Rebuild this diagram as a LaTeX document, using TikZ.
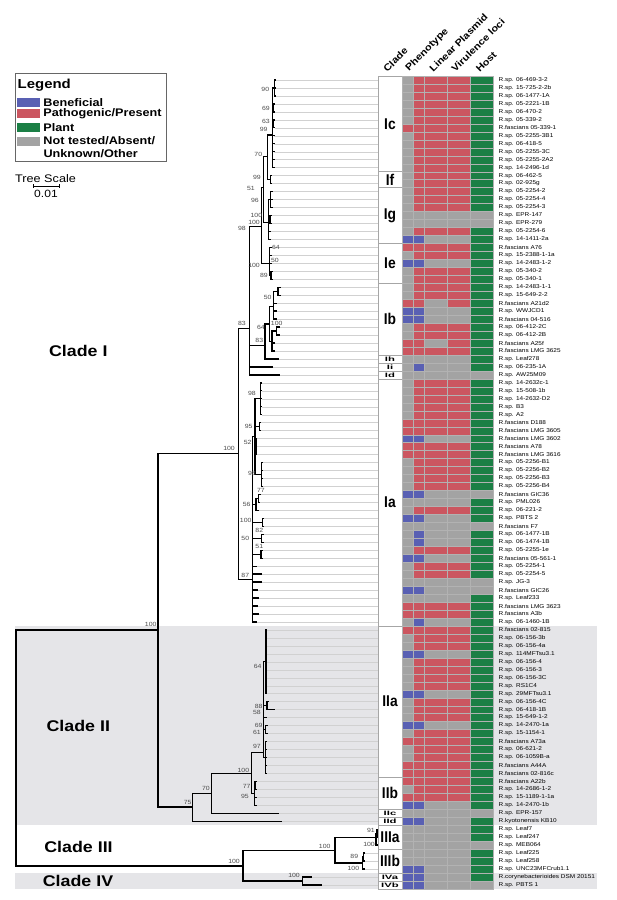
\documentclass[tikz,border=0pt]{standalone}
\usepackage{fontspec}
\setmainfont{Liberation Sans}[FakeStretch=1.15]
\usetikzlibrary{positioning}

\definecolor{be}{HTML}{5960B3}
\definecolor{pa}{HTML}{CB5660}
\definecolor{pl}{HTML}{1B7F45}
\definecolor{nt}{HTML}{A3A3A3}
\definecolor{band}{HTML}{E5E5E8}

\begin{document}
\begin{tikzpicture}[x=1pt,y=-1pt,
    br/.style={line width=1.3pt,line cap=rect},
    leafline/.style={draw=black!18,line width=0.45pt},
    sep/.style={draw=black!35,line width=0.5pt},
    cell/.style={draw=black!30,line width=0.3pt},
    boot/.style={anchor=east,inner sep=0pt,text=black!70,font=\fontsize{6}{6}\selectfont},
    tiplab/.style={anchor=west,inner sep=0pt,font=\fontsize{5.6}{6}\selectfont},
    hdr/.style={rotate=45,anchor=south west,inner sep=0pt,font=\fontsize{9.5}{9.5}\bfseries\selectfont},
    bigclade/.style={inner sep=0pt,font=\fontsize{15.5}{16}\bfseries\selectfont},
    subbig/.style={inner sep=0pt,font=\fontsize{12}{12}\bfseries\selectfont},
    subsmall/.style={inner sep=0pt,font=\fontsize{7}{7}\bfseries\selectfont},
    swatch/.style={minimum width=22.7pt,minimum height=9pt,inner sep=0pt},
    legtxt/.style={anchor=west,inner sep=0pt,font=\fontsize{11}{11}\bfseries\selectfont}]

    \fill[white] (0,0) rectangle (617,900);
    \useasboundingbox (0,0) rectangle (617,900);

    % legend
    \draw[draw=black!60,line width=0.8pt,fill=white] (15,73.5) rectangle (166.7,161);
    \node[anchor=west,inner sep=0pt,font=\fontsize{13}{13}\bfseries\selectfont] (leg) at (17.5,85.5) {Legend};
    \node[swatch,fill=be] (swbe) at (28.7,102.2) {};
    \node[swatch,fill=pa] (swpa) at (28.7,113.7) {};
    \node[swatch,fill=pl] (swpl) at (28.7,127.5) {};
    \node[swatch,fill=nt] (swnt) at (28.7,141) {};
    \node[legtxt,right=3pt of swbe] (txbe) {Beneficial};
    \node[legtxt,right=3pt of swpa] (txpa) {Pathogenic/Present};
    \node[legtxt,right=3pt of swpl] (txpl) {Plant};
    \node[legtxt,right=3pt of swnt] (txnt) {Not tested/Absent/};
    \node[legtxt] (txun) at (43.4,153.3) {Unknown/Other};

    % tree scale
    \node[anchor=west,inner sep=0pt,font=\fontsize{11}{11}\selectfont] (tsc) at (15,179) {Tree Scale};
    \coordinate (sbl) at (33.3,186);
    \coordinate (sbr) at (59.3,186);
    \draw[line width=0.8pt] (sbl) -- (sbr);
    \draw[line width=0.8pt] ([yshift=2pt]sbl) -- ([yshift=-2pt]sbl);
    \draw[line width=0.8pt] ([yshift=2pt]sbr) -- ([yshift=-2pt]sbr);
    \node[inner sep=0pt,font=\fontsize{10.5}{10.5}\selectfont] (tsv) at (46,194) {0.01};

    % column headers
    \node[hdr] (hclade) at (387.5,73) {Clade};
    \node[hdr] (hphen) at (410.5,73) {Phenotype};
    \node[hdr] (hplas) at (433.5,73) {Linear Plasmid};
    \node[hdr] (hvir) at (455.5,73) {Virulence loci};
    \node[hdr] (hhost) at (480,73) {Host};

    \begin{scope}[yshift=-72.03pt,y=-7.97pt]
        % clade bands
        \fill[band] (15,69.5) rectangle (378,94.5);
        \fill[band] (494,69.5) rectangle (597,94.5);
        \fill[band] (15,100.5) rectangle (378,102.5);
        \fill[band] (494,100.5) rectangle (597,102.5);

        % leaves, heat map and labels
        \foreach \i/\tx/\lab/\ka/\kb/\kc/\kd/\ke in {
            1/275.5/R.sp. 06-469-3-2/nt/pa/pa/pa/pl,
            2/275.5/R.sp. 15-725-2-2b/nt/pa/pa/pa/pl,
            3/275.5/R.sp. 06-1477-1A/nt/pa/pa/pa/pl,
            4/274.5/R.sp. 05-2221-1B/nt/pa/pa/pa/pl,
            5/274.5/R.sp. 06-470-2/nt/pa/pa/pa/pl,
            6/274.5/R.sp. 05-339-2/nt/pa/pa/pa/pl,
            7/274.5/R.fascians 05-339-1/pa/pa/pa/pa/pl,
            8/274/R.sp. 05-2255-3B1/nt/pa/pa/pa/pl,
            9/274/R.sp. 06-418-5/nt/pa/pa/pa/pl,
            10/274/R.sp. 05-2255-3C/nt/pa/pa/pa/pl,
            11/274/R.sp. 05-2255-2A2/nt/pa/pa/pa/pl,
            12/274/R.sp. 14-2496-1d/nt/pa/pa/pa/pl,
            13/271.7/R.sp. 06-462-5/nt/pa/pa/pa/pl,
            14/271.7/R.sp. 02-925g/nt/pa/pa/pa/pl,
            15/272.7/R.sp. 05-2254-2/nt/pa/pa/pa/pl,
            16/272.7/R.sp. 05-2254-4/nt/pa/pa/pa/pl,
            17/272.7/R.sp. 05-2254-3/nt/pa/pa/pa/pl,
            18/271/R.sp. EPR-147/nt/nt/nt/nt/nt,
            19/271/R.sp. EPR-279/nt/nt/nt/nt/nt,
            20/270.5/R.sp. 05-2254-6/nt/pa/pa/pa/pl,
            21/270.5/R.sp. 14-1411-2a/be/be/nt/nt/pl,
            22/271/R.fascians A76/pa/pa/pa/pa/pl,
            23/271/R.sp. 15-2388-1-1a/nt/pa/pa/pa/pl,
            24/271.5/R.sp. 14-2483-1-2/be/be/nt/nt/pl,
            25/272/R.sp. 05-340-2/nt/pa/pa/pa/pl,
            26/272/R.sp. 05-340-1/nt/pa/pa/pa/pl,
            27/280/R.sp. 14-2483-1-1/nt/pa/pa/pa/pl,
            28/280/R.sp. 15-649-2-2/nt/pa/pa/pa/pl,
            29/276/R.fascians A21d2/pa/pa/nt/pa/pl,
            30/276/R.sp. WWJCD1/be/be/nt/nt/pl,
            31/276/R.fascians 04-516/be/be/nt/nt/pl,
            32/279/R.sp. 06-412-2C/nt/pa/pa/pa/pl,
            33/279/R.sp. 06-412-2B/nt/pa/pa/pa/pl,
            34/274/R.fascians A25f/pa/pa/nt/pa/pl,
            35/274/R.fascians LMG 3625/pa/pa/pa/pa/pl,
            36/278.3/R.sp. Leaf278/nt/nt/nt/nt/pl,
            37/272.7/R.sp. 06-235-1A/nt/be/nt/nt/pl,
            38/279.3/R.sp. AW25M09/nt/nt/nt/nt/nt,
            39/261.7/R.sp. 14-2632c-1/nt/pa/pa/pa/pl,
            40/261.7/R.sp. 15-508-1b/nt/pa/pa/pa/pl,
            41/261.7/R.sp. 14-2632-D2/nt/pa/pa/pa/pl,
            42/261.7/R.sp. B3/nt/pa/pa/pa/pl,
            43/261.7/R.sp. A2/nt/pa/pa/pa/pl,
            44/260.3/R.fascians D188/pa/pa/pa/pa/pl,
            45/260.3/R.fascians LMG 3605/pa/pa/pa/pa/pl,
            46/256.7/R.fascians LMG 3602/be/be/nt/nt/pl,
            47/256.7/R.fascians A78/pa/pa/pa/pa/pl,
            48/256.7/R.fascians LMG 3616/pa/pa/pa/pa/pl,
            49/262.7/R.sp. 05-2256-B1/nt/pa/pa/pa/pl,
            50/262.7/R.sp. 05-2256-B2/nt/pa/pa/pa/pl,
            51/262.7/R.sp. 05-2256-B3/nt/pa/pa/pa/pl,
            52/262.7/R.sp. 05-2256-B4/nt/pa/pa/pa/pl,
            53/260/R.fascians GIC36/be/be/nt/nt/nt,
            54/259.3/R.sp. PML026/nt/nt/nt/nt/pl,
            55/258/R.sp. 06-221-2/nt/pa/pa/pa/pl,
            56/263.7/R.sp. PBTS 2/be/be/nt/nt/pl,
            57/263.7/R.fascians F7/nt/nt/nt/nt/nt,
            58/263/R.sp. 06-1477-1B/nt/be/nt/nt/pl,
            59/263/R.sp. 06-1474-1B/nt/be/nt/nt/pl,
            60/262/R.sp. 05-2255-1e/nt/pa/pa/pa/pl,
            61/262/R.fascians 05-561-1/be/be/nt/nt/pl,
            62/256/R.sp. 05-2254-1/nt/pa/pa/pa/pl,
            63/261/R.sp. 05-2254-5/nt/pa/pa/pa/pl,
            64/261/R.sp. JG-3/nt/nt/nt/nt/nt,
            65/257/R.fascians GIC26/be/be/nt/nt/nt,
            66/258/R.sp. Leaf233/nt/nt/nt/nt/pl,
            67/257/R.fascians LMG 3623/pa/pa/pa/pa/pl,
            68/258/R.fascians A3b/pa/pa/pa/pa/pl,
            69/256/R.sp. 06-1460-1B/nt/be/nt/nt/pl,
            70/266.7/R.fascians 02-815/pa/pa/pa/pa/pl,
            71/266.7/R.sp. 06-156-3b/nt/pa/pa/pa/pl,
            72/266.7/R.sp. 06-156-4a/nt/pa/pa/pa/pl,
            73/266.7/R.sp. 114MFTsu3.1/be/be/nt/nt/pl,
            74/266.7/R.sp. 06-156-4/nt/pa/pa/pa/pl,
            75/266.7/R.sp. 06-156-3/nt/pa/pa/pa/pl,
            76/266.7/R.sp. 06-156-3C/nt/pa/pa/pa/pl,
            77/266.7/R.sp. RS1C4/nt/pa/pa/pa/pl,
            78/266.7/R.sp. 29MFTsu3.1/be/be/nt/nt/pl,
            79/268.5/R.sp. 06-156-4C/nt/pa/pa/pa/pl,
            80/274/R.sp. 06-418-1B/nt/pa/pa/pa/pl,
            81/266/R.sp. 15-649-1-2/nt/pa/pa/pa/pl,
            82/267/R.sp. 14-2470-1a/be/be/nt/nt/pl,
            83/267/R.sp. 15-1154-1/nt/pa/pa/pa/pl,
            84/266.5/R.fascians A73a/pa/pa/pa/pa/pl,
            85/266.5/R.sp. 06-621-2/nt/pa/pa/pa/pl,
            86/266.5/R.sp. 06-1059B-a/nt/pa/pa/pa/pl,
            87/266.5/R.fascians A44A/pa/pa/pa/pa/pl,
            88/266.5/R.fascians 02-816c/pa/pa/pa/pa/pl,
            89/256/R.fascians A22b/pa/pa/pa/pa/pl,
            90/256/R.sp. 14-2686-1-2/nt/pa/pa/pa/pl,
            91/256/R.sp. 15-1189-1-1a/pa/pa/pa/pa/pl,
            92/256.3/R.sp. 14-2470-1b/be/be/nt/nt/pl,
            93/278/R.sp. EPR-157/nt/nt/nt/nt/nt,
            94/281.7/R.kyotonensis KB10/be/be/nt/nt/pl,
            95/378/R.sp. Leaf7/nt/nt/nt/nt/pl,
            96/378/R.sp. Leaf247/nt/nt/nt/nt/pl,
            97/377.8/R.sp. MEB064/nt/nt/nt/nt/nt,
            98/364.5/R.sp. Leaf225/nt/nt/nt/nt/pl,
            99/364.5/R.sp. Leaf258/nt/nt/nt/nt/pl,
            100/364.5/R.sp. UNC23MFCrub1.1/be/be/nt/nt/pl,
            101/311.7/R.corynebacterioides DSM 20151/be/be/nt/nt/pl,
            102/321.7/R.sp. PBTS 1/be/be/nt/nt/nt}{
            \coordinate (t\i) at (\tx,\i);
            \draw[leafline] (t\i) -- (378,\i);
            \draw[cell,fill=\ka] (402.3,{\i-0.5}) rectangle (413.3,{\i+0.5});
            \draw[cell,fill=\kb] (413.3,{\i-0.5}) rectangle (424.3,{\i+0.5});
            \draw[cell,fill=\kc] (424.3,{\i-0.5}) rectangle (447.3,{\i+0.5});
            \draw[cell,fill=\kd] (447.3,{\i-0.5}) rectangle (470,{\i+0.5});
            \draw[cell,fill=\ke] (470,{\i-0.5}) rectangle (492.7,{\i+0.5});
            \node[tiplab] (lab\i) at (498.5,\i) {\lab};
        }

        % internal nodes
        \coordinate (root) at (16,85);
        \coordinate (nI2) at (158,70);
        \coordinate (nI) at (238.3,47.9);
        \coordinate (n83a) at (249.5,32.15);
        \coordinate (n98) at (261.7,19.4);
        \coordinate (n51) at (263.3,14.5);
        \coordinate (n70a) at (267.3,10.6);
        \coordinate (nIc) at (272.7,7.9);
        \coordinate (n90) at (274.3,2);
        \coordinate (n69a) at (273.3,4.5);
        \coordinate (n63) at (273.3,6.5);
        \coordinate (nIf) at (270.7,13.5);
        \coordinate (nIg) at (268.3,18.9);
        \coordinate (n96) at (270.7,16);
        \coordinate (nE) at (270,18.5);
        \coordinate (nIe) at (269.3,24);
        \coordinate (n89a) at (271,25.5);
        \coordinate (n83b) at (265,34.3);
        \coordinate (nIb) at (269.3,31.6);
        \coordinate (n50) at (273.3,29.4);
        \coordinate (n27) at (278,27.5);
        \coordinate (nB) at (272,33.8);
        \coordinate (n100c) at (276.7,32.5);
        \coordinate (n87) at (252.3,63.7);
        \coordinate (nU) at (255,45.75);
        \coordinate (n98b) at (260.7,41);
        \coordinate (n95) at (259.3,44.5);
        \coordinate (n52) at (256,47);
        \coordinate (n98c) at (261.7,50.5);
        \coordinate (n56) at (256,54.25);
        \coordinate (n77) at (258.5,53.5);
        \coordinate (n100d) at (262.7,56.5);
        \coordinate (n82) at (261.7,58.5);
        \coordinate (n51b) at (261,60.5);
        \coordinate (nII) at (192.7,92.2);
        \coordinate (n70) at (211.7,90.5);
        \coordinate (n100b) at (251.7,88);
        \coordinate (nIIa) at (263.3,85.4);
        \coordinate (n64) at (266,74);
        \coordinate (n88) at (267,79.5);
        \coordinate (n69) at (265.5,82.5);
        \coordinate (n97) at (265.3,86);
        \coordinate (nIIb) at (254.3,90.5);
        \coordinate (n77b) at (255,89.5);
        \coordinate (nIII4) at (243,99.6);
        \coordinate (nIII) at (335,97.7);
        \coordinate (nIIIa) at (376,96);
        \coordinate (n91) at (377,95.5);
        \coordinate (nIIIb) at (362.7,99.25);
        \coordinate (n89) at (363.5,98.5);
        \coordinate (nIV) at (302.7,101.5);

        % branches
        \foreach \p/\c in {root/nI2,root/nIII4,nI2/nI,nI2/nII,
            nI/n83a,nI/n87,n83a/n98,n83a/n83b,n83a/t37,n83a/t38,
            n98/n51,n98/nIe,n51/n70a,n51/nIg,n70a/nIc,n70a/nIf,
            nIc/n90,nIc/n69a,nIc/n63,n90/t1,n90/t2,n90/t3,
            n69a/t4,n69a/t5,n63/t6,n63/t7,nIf/t13,nIf/t14,
            nIg/n96,nIg/nE,nIg/t20,nIg/t21,n96/t15,n96/t16,n96/t17,
            nE/t18,nE/t19,nIe/t22,nIe/t23,nIe/t24,nIe/n89a,n89a/t25,n89a/t26,
            n83b/nIb,n83b/t36,nIb/n50,nIb/nB,n50/n27,n50/t29,n50/t30,n50/t31,
            n27/t27,n27/t28,nB/n100c,nB/t34,nB/t35,n100c/t32,n100c/t33,
            n87/nU,n87/n56,n87/n100d,n87/n82,n87/n51b,
            nU/n98b,nU/n95,nU/n52,nU/n98c,n95/t44,n95/t45,
            n56/n77,n56/t55,n77/t53,n77/t54,n100d/t56,n100d/t57,
            n82/t58,n82/t59,n51b/t60,n51b/t61,
            nII/n70,nII/t94,n70/n100b,n70/t93,n100b/nIIa,n100b/nIIb,
            nIIa/n64,nIIa/n88,nIIa/t81,nIIa/n69,nIIa/n97,
            n88/t79,n88/t80,n69/t82,n69/t83,
            nIIb/n77b,nIIb/t91,nIIb/t92,n77b/t89,n77b/t90,
            nIII4/nIII,nIII4/nIV,nIII/nIIIa,nIII/nIIIb,
            nIIIa/n91,nIIIa/t97,n91/t95,n91/t96,
            nIIIb/n89,nIIIb/t100,n89/t98,n89/t99,nIV/t101,nIV/t102}{
            \draw[br] (\p) |- (\c);
        }
        \foreach \c in {8,...,12} \draw[br] (nIc) |- (t\c);
        \foreach \c in {39,...,43} \draw[br] (n98b) |- (t\c);
        \foreach \c in {46,47,48} \draw[br] (n52) |- (t\c);
        \foreach \c in {49,...,52} \draw[br] (n98c) |- (t\c);
        \foreach \c in {62,...,69} \draw[br] (n87) |- (t\c);
        \foreach \c in {70,...,78} \draw[br] (n64) |- (t\c);
        \foreach \c in {84,...,88} \draw[br] (n97) |- (t\c);

        % clade column
        \draw[sep] (378,0.5) -- (378,102.5);
        \foreach \r in {0.5,12.5,14.5,21.5,26.5,35.5,36.5,37.5,38.5,69.5,88.5,92.5,93.5,94.5,97.5,100.5,101.5,102.5}
            \draw[sep] (378,\r) -- (402.3,\r);
        \foreach \nm/\r in {Ic/6.5,If/13.5,Ig/18,Ie/24,Ib/31,Ia/54,IIa/79,IIb/90.5,IIIa/96,IIIb/99}
            \node[subbig] (c\nm) at (390,\r) {\scalebox{1}[1.3]{\nm}};
        \foreach \nm/\r in {Ih/36,Ii/37,Id/38,IIc/93,IId/94,IVa/101,IVb/102}
            \node[subsmall] (c\nm) at (390,\r) {\scalebox{1.4}[0.9]{\nm}};
    \end{scope}

    % bootstrap values
    \foreach \bx/\by/\bv [count=\k] in {269.3/89/90,270/108.3/69,270/121/63,267.7/129.3/99,
        262.3/154.3/70,261/177.7/99,255/188.3/51,259/200.7/96,262.3/215.7/100,260/222.3/100,
        246/228.3/98,280/247.3/64,279/260/50,260/265/100,268/275.7/89,271.7/297.3/50,
        246/323.3/83,265/327.3/64,282.7/323.3/100,263.3/340/83,256/393.3/98,252.7/426/95,
        251.7/442.7/52,256/473.3/98,265/490/77,250.7/504.3/56,251.7/520/100,263.3/530/82,
        249.3/538.3/50,263.3/546.7/51,249.3/575/87,235/448/100,156.7/624/100,261.7/666/64,
        262.7/706/88,261/712.7/58,262.7/725.7/69,261/732.3/61,261/746.7/97,249.3/770/100,
        250.7/786/77,249/796/95,210/788.3/70,191.7/802.7/75,375/830.7/91,375/844.3/100,
        330.7/846.7/100,358.3/856.7/89,359.3/868.7/100,240/861/100,300/875/100}
        \node[boot] (bs\k) at (\bx,\by) {\bv};

    % clade names
    \node[bigclade] (cladeI) at (78.3,351) {Clade I};
    \node[bigclade] (cladeII) at (78.3,726) {Clade II};
    \node[bigclade] (cladeIII) at (78.5,847) {Clade III};
    \node[bigclade] (cladeIV) at (78,881) {Clade IV};
\end{tikzpicture}
\end{document}
